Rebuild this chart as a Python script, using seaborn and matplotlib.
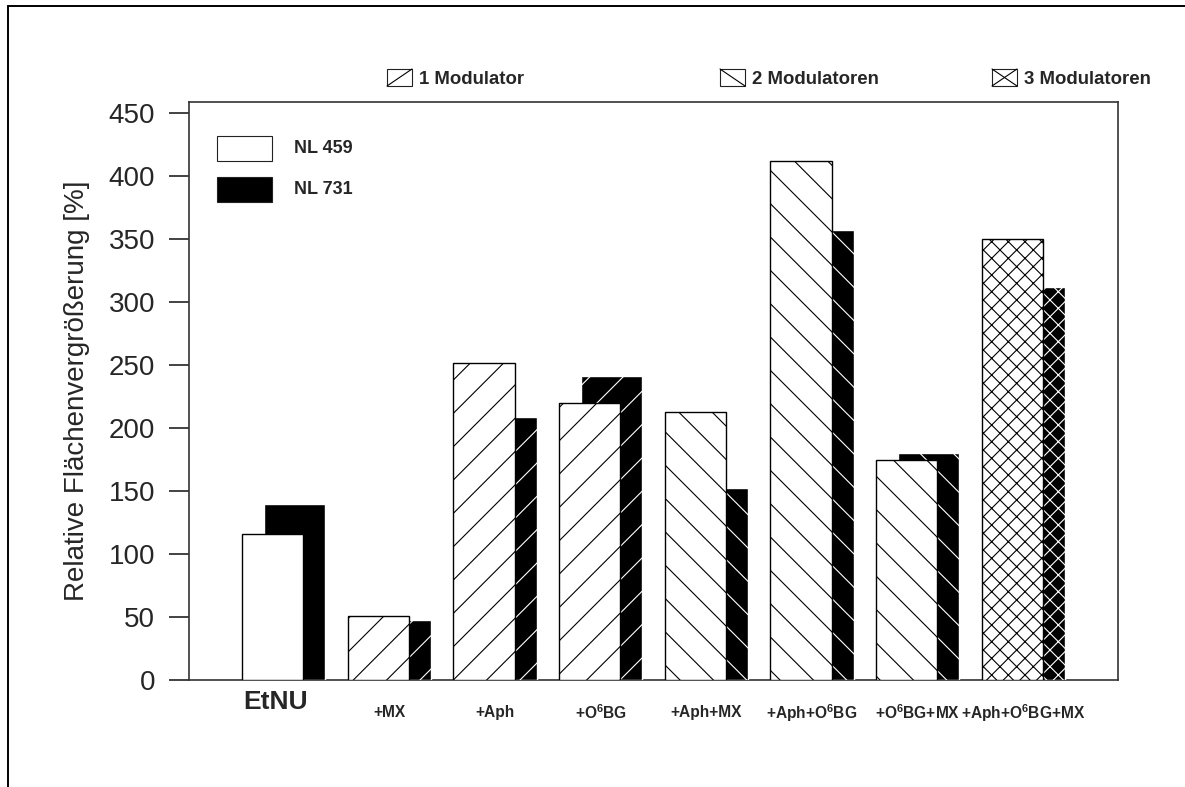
import matplotlib
matplotlib.use("Agg")
import matplotlib.pyplot as plt
import matplotlib.transforms as mtransforms
from matplotlib.lines import Line2D
from matplotlib.patches import Rectangle
import seaborn as sns
import numpy as np
import pandas as pd

# values
conditions = ["EtNU", "+MX", "+Aph", "+O$^6$BG", "+Aph+MX",
              "+Aph+O$^6$BG", "+O$^6$BG+MX", "+Aph+O$^6$BG+MX"]
nl459 = [116, 51, 252, 220, 213, 412, 175, 350]
nl731 = [140, 48, 209, 241, 152, 357, 180, 312]
n_modulators = [0, 1, 1, 1, 2, 2, 2, 3]

hatch_for = {0: "", 1: "//", 2: "\\\\", 3: "xxxx"}
modulator_names = ["1 Modulator", "2 Modulatoren", "3 Modulatoren"]
series_names = ["NL 459", "NL 731"]

sns.set_style("ticks")
plt.rcParams["font.family"] = ["Liberation Sans", "DejaVu Sans"]
plt.rcParams["mathtext.default"] = "regular"
plt.rcParams["hatch.linewidth"] = 0.4

W, H = 1185, 787
DPI = 200
fig = plt.figure(figsize=(W / DPI, H / DPI), dpi=DPI)
ax = fig.add_axes([189 / W, 1 - 680 / H, (1118 - 189) / W, (680 - 101.7) / H])

pos = np.arange(len(conditions))
shift = 0.21
width = 0.58

df_black = pd.DataFrame({"x": pos + shift, "y": nl731})
df_white = pd.DataFrame({"x": pos, "y": nl459})

sns.barplot(data=df_black, x="x", y="y", native_scale=True, width=width,
            color="black", saturation=1, errorbar=None, ax=ax,
            edgecolor="white", linewidth=0.5, zorder=3)
n_black = len(ax.patches)
sns.barplot(data=df_white, x="x", y="y", native_scale=True, width=width,
            color="white", saturation=1, errorbar=None, ax=ax,
            edgecolor="black", linewidth=0.5, zorder=4)

for k, bar in enumerate(ax.patches):
    i = k % n_black
    bar.set_hatch(hatch_for[n_modulators[i]])

ax.set_xlim(-0.79, 8.0)
ax.set_ylim(0, 459)
ax.set_yticks(np.arange(0, 451, 50))
ax.set_xticks([])
ax.set_xlabel("")
ax.set_ylabel("Relative Flächenvergrößerung [%]", fontsize=10)
ax.yaxis.set_label_coords(-0.107, 0.5)
ax.tick_params(axis="y", direction="out", length=7.2, width=0.6,
               pad=5, labelsize=10, color="#222222")
for s in ax.spines.values():
    s.set_linewidth(0.6)
    s.set_color("#333333")
    s.set_zorder(2.5)

# category labels under the bars
trans = mtransforms.blended_transform_factory(ax.transData, ax.transAxes)
for i, name in enumerate(conditions):
    if i == 0:
        ax.text(pos[i] + 0.03, -0.038, name, transform=trans, ha="center",
                va="center", fontsize=9.5, fontweight="bold")
    else:
        ax.text(pos[i] + shift / 2, -0.057, name, transform=trans,
                ha="center", va="center", fontsize=5.6, fontweight="bold")

# inner legend (cell lines)
for j, (name, fc) in enumerate(zip(series_names, ["white", "black"])):
    y0 = [136, 177][j]
    fig.add_artist(Rectangle((217 / W, 1 - (y0 + 25) / H), 55 / W, 25 / H,
                             facecolor=fc, edgecolor="#222222", linewidth=0.4,
                             transform=fig.transFigure))
    fig.text(294 / W, 1 - (y0 + 12.5) / H, name, ha="left", va="center",
             fontsize=6.5, fontweight="bold")

# top legend (number of modulators)
box_x = [387, 720, 992]
for j, name in enumerate(modulator_names):
    x0, y0, bw, bh = box_x[j], 69, 25, 17
    l, r = x0 / W, (x0 + bw) / W
    b, t = 1 - (y0 + bh) / H, 1 - y0 / H
    fig.add_artist(Rectangle((l, b), r - l, t - b, facecolor="white",
                             edgecolor="#222222", linewidth=0.4,
                             transform=fig.transFigure))
    if j in (0, 2):
        fig.add_artist(Line2D([l, r], [b, t], color="black", linewidth=0.4,
                              transform=fig.transFigure))
    if j in (1, 2):
        fig.add_artist(Line2D([l, r], [t, b], color="black", linewidth=0.4,
                              transform=fig.transFigure))
    fig.text((x0 + bw + 7) / W, 1 - 79 / H, name, ha="left", va="center",
             fontsize=6.7, fontweight="bold")

# outer frame of the page
fig.add_artist(Line2D([8 / W, 8 / W], [0, 1 - 6 / H], color="black",
                      linewidth=0.7, transform=fig.transFigure))
fig.add_artist(Line2D([8 / W, 1], [1 - 6 / H, 1 - 6 / H], color="black",
                      linewidth=0.7, transform=fig.transFigure))

fig.savefig("out.png", dpi=DPI)
